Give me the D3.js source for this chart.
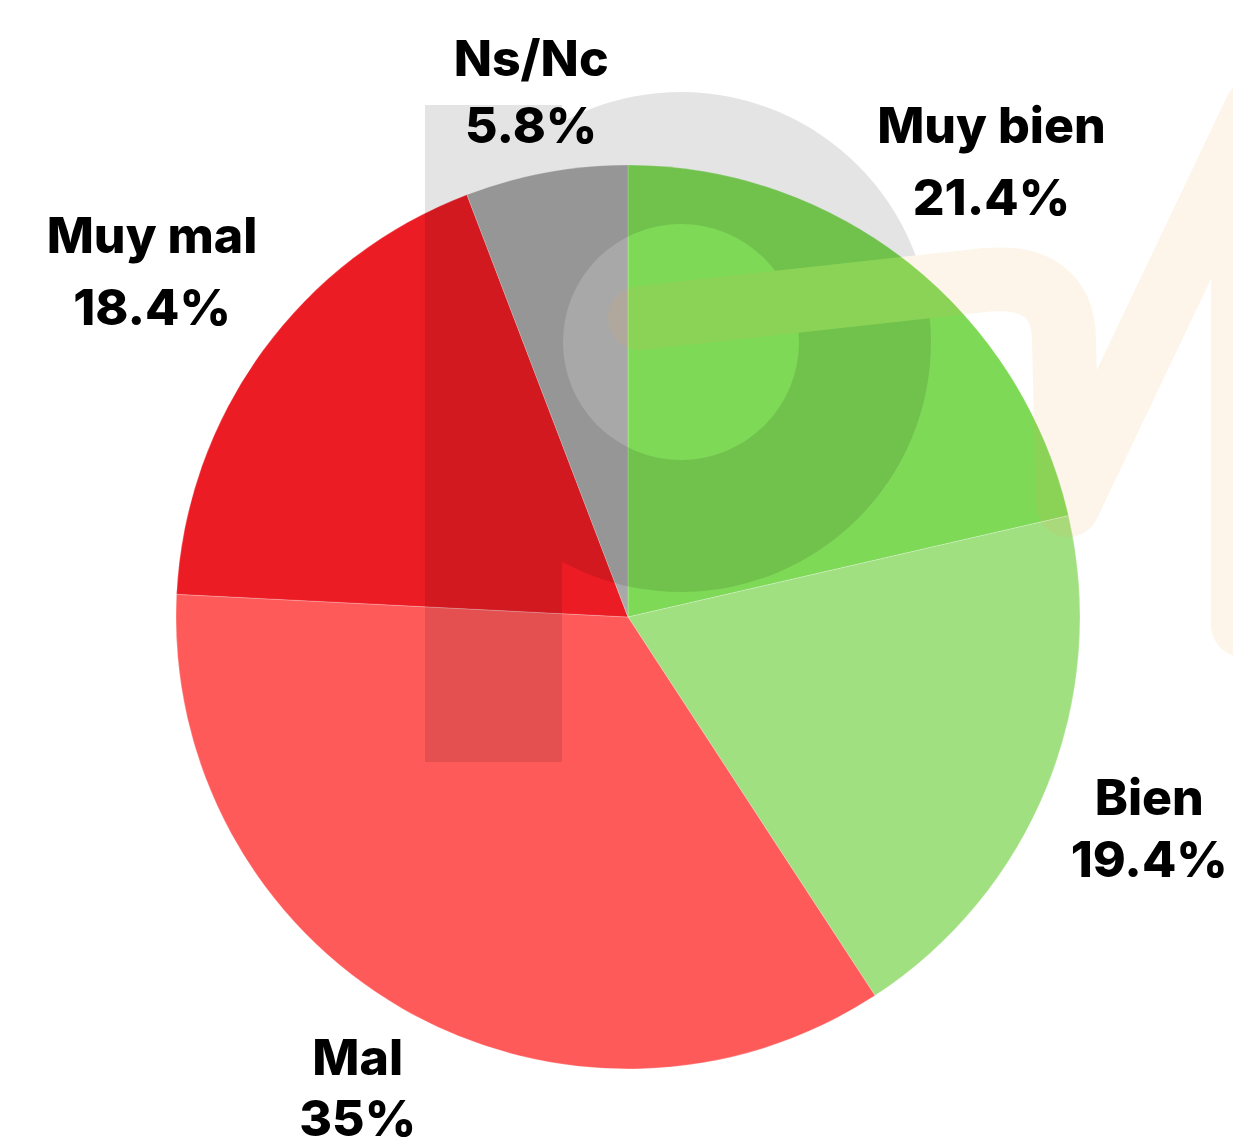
<!DOCTYPE html>
<meta charset="utf-8">
<title>Valoración</title>
<script src="https://d3js.org/d3.v7.min.js"></script>
<style>
  body { margin: 0; background: #fff; }
</style>
<div id="pie"></div>
<script>

// data
var categories = ["Muy bien", "Bien", "Mal", "Muy mal", "Ns/Nc"];
var values = [21.4, 19.4, 35, 18.4, 5.8];
var valueLabels = ["21.4%", "19.4%", "35%", "18.4%", "5.8%"];
var colors = ["#7ed957", "#a0e080", "#ff5a5a", "#ec1c24", "#a8a8a8"];

var width = 1233, height = 1146;
var cx = 628, cy = 617, radius = 452;
var gap = 21, lineGap = 25;
var fontSize = 50, fontFamily = "Inter", fontWeight = 800;

var svg = d3.select("#pie")
  .append("svg")
    .attr("width", width)
    .attr("height", height);

var g = svg.append("g")
    .attr("transform", "translate(" + cx + "," + cy + ")");

var pie = d3.pie().sort(null).value(function(d) { return d; });
var arc = d3.arc().innerRadius(0).outerRadius(radius);
var arcs = pie(values);

// slices
g.selectAll("path.slice")
  .data(arcs)
  .enter()
  .append("path")
    .attr("class", "slice")
    .attr("d", arc)
    .attr("fill", function(d, i) { return colors[i]; })
    .attr("stroke", "#fff")
    .attr("stroke-opacity", 0.4)
    .attr("stroke-width", 0.6);

// faint logo watermark over the pie
var mStroke = "M640,318 L985,280 Q1063,273 1064,340 L1068,505 L1256,110 L1243,160 L1243,625";

var mask = svg.append("defs").append("mask")
    .attr("id", "cut")
    .attr("maskUnits", "userSpaceOnUse")
    .attr("x", 0).attr("y", 0)
    .attr("width", width).attr("height", height);
mask.append("rect").attr("width", width).attr("height", height).attr("fill", "#fff");
mask.append("path")
  .attr("d", mStroke)
  .attr("fill", "none")
  .attr("stroke", "#000")
  .attr("stroke-width", 64)
  .attr("stroke-linecap", "round")
  .attr("stroke-linejoin", "round");

var wm = svg.append("g").attr("opacity", 0.1).attr("mask", "url(#cut)");
wm.append("rect")
  .attr("x", 425).attr("y", 105)
  .attr("width", 137).attr("height", 657)
  .attr("fill", "#000");
wm.append("path")
  .attr("transform", "translate(681,342)")
  .attr("d", d3.arc().innerRadius(118).outerRadius(250).startAngle(0).endAngle(2 * Math.PI)())
  .attr("fill", "#000");

svg.append("path")
  .attr("d", mStroke)
  .attr("fill", "none")
  .attr("stroke", "rgb(235,170,80)")
  .attr("stroke-opacity", 0.12)
  .attr("stroke-width", 64)
  .attr("stroke-linecap", "round")
  .attr("stroke-linejoin", "round");

// glyph extents, so two-line labels are spaced by ink, not by line box
var ctx = document.createElement("canvas").getContext("2d");
ctx.font = fontWeight + " " + fontSize + "px " + fontFamily;
function ink(s) {
  var m = ctx.measureText(s);
  return { w: m.actualBoundingBoxLeft + m.actualBoundingBoxRight,
           asc: m.actualBoundingBoxAscent, desc: m.actualBoundingBoxDescent };
}

var labels = svg.append("g")
    .attr("font-family", fontFamily + ", 'Noto Sans', sans-serif")
    .attr("font-weight", fontWeight)
    .attr("font-size", fontSize)
    .attr("fill", "#000")
    .attr("text-anchor", "middle");

// label box pushed out along the mid angle until its nearest corner clears the pie
arcs.forEach(function(d, i) {
  var a1 = ink(categories[i]), a2 = ink(valueLabels[i]);
  var y2 = a1.desc + lineGap + a2.asc;
  var top = -a1.asc, bottom = y2 + a2.desc;
  var bw = Math.max(a1.w, a2.w), bh = bottom - top;

  var t = labels.append("text");
  t.append("tspan").attr("x", 0).attr("y", 0).text(categories[i]);
  t.append("tspan").attr("x", 0).attr("y", y2).text(valueLabels[i]);

  var a = (d.startAngle + d.endAngle) / 2;
  var ux = Math.sin(a), uy = -Math.cos(a);
  var kx = -Math.sign(ux) * bw / 2;
  var ky = -Math.sign(uy) * bh / 2;
  var dot = ux * kx + uy * ky;
  var R = radius + gap;
  var s = -dot + Math.sqrt(dot * dot - (kx * kx + ky * ky) + R * R);
  var bx = cx + s * ux, by = cy + s * uy;
  t.attr("transform", "translate(" + bx + "," + (by - (top + bottom) / 2) + ")");
});

</script>
